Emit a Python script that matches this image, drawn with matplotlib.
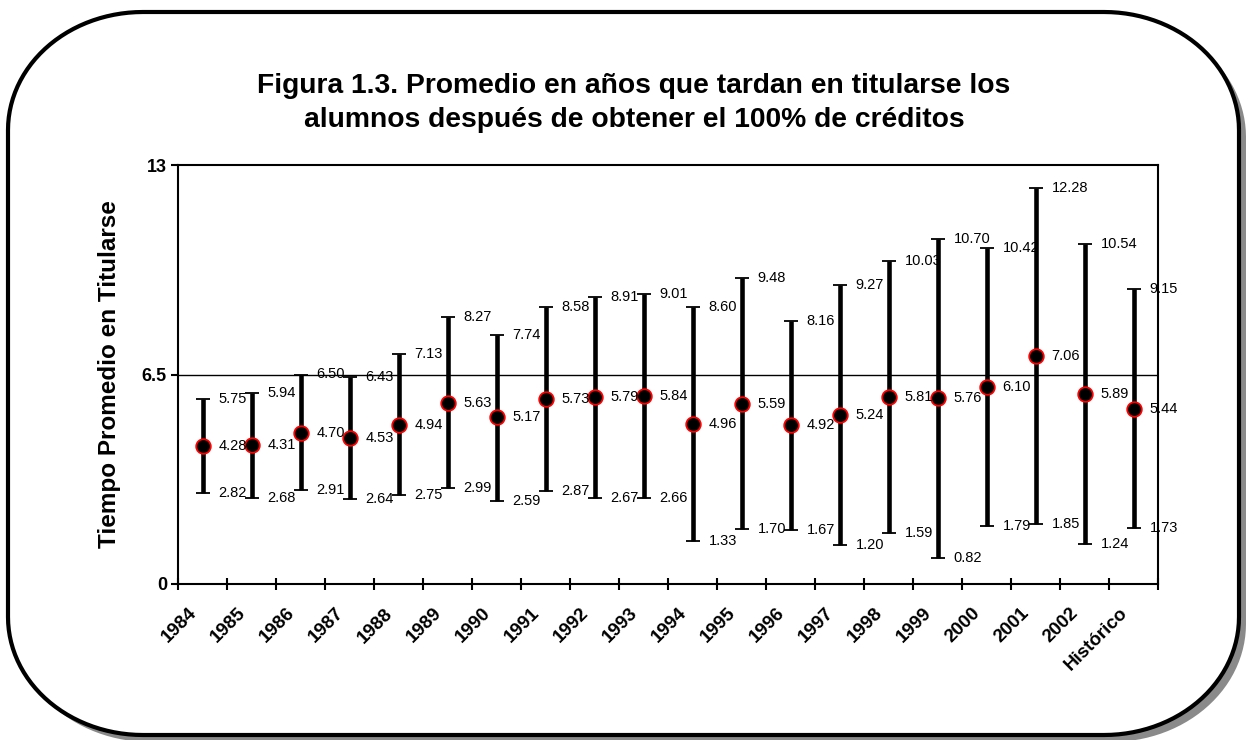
import numpy as np
import matplotlib.pyplot as plt
from matplotlib.path import Path
from matplotlib.patches import PathPatch
from matplotlib.transforms import Affine2D

plt.rcParams['font.family'] = ['Liberation Sans', 'DejaVu Sans']

# datos
categorias = ['1984', '1985', '1986', '1987', '1988', '1989', '1990', '1991', '1992', '1993',
              '1994', '1995', '1996', '1997', '1998', '1999', '2000', '2001', '2002', 'Histórico']
promedio = [4.28, 4.31, 4.70, 4.53, 4.94, 5.63, 5.17, 5.73, 5.79, 5.84,
            4.96, 5.59, 4.92, 5.24, 5.81, 5.76, 6.10, 7.06, 5.89, 5.44]
superior = [5.75, 5.94, 6.50, 6.43, 7.13, 8.27, 7.74, 8.58, 8.91, 9.01,
            8.60, 9.48, 8.16, 9.27, 10.03, 10.70, 10.42, 12.28, 10.54, 9.15]
inferior = [2.82, 2.68, 2.91, 2.64, 2.75, 2.99, 2.59, 2.87, 2.67, 2.66,
            1.33, 1.70, 1.67, 1.20, 1.59, 0.82, 1.79, 1.85, 1.24, 1.73]
linea_ref = 6.5
yticks = [0, 6.5, 13]

W, H = 1248, 740
fig = plt.figure(figsize=(W / 100, H / 100), dpi=100)


def marco_redondeado(x0, y0, x1, y1, rx, ry):
    # rectangulo con esquinas elipticas, en pixeles de la figura
    centros = [(x1 - rx, y1 - ry, 0), (x0 + rx, y1 - ry, 90),
               (x0 + rx, y0 + ry, 180), (x1 - rx, y0 + ry, 270)]
    pts = []
    for cx, cy, a0 in centros:
        t = np.radians(np.linspace(a0, a0 + 90, 30))
        pts += list(zip(cx + rx * np.cos(t), cy + ry * np.sin(t)))
    pts.append(pts[0])
    return Path(pts)


px = Affine2D().scale(1 / W, 1 / H) + fig.transFigure
marco = marco_redondeado(8, 5, 1239, 728, 135, 118)
sombra = PathPatch(marco, transform=Affine2D().translate(7, -7) + px,
                   facecolor='#8a8a8a', edgecolor='#8a8a8a', lw=0, zorder=-2)
borde = PathPatch(marco, transform=px, facecolor='white', edgecolor='black', lw=3, zorder=-1)
fig.add_artist(sombra)
fig.add_artist(borde)

fig.text(634 / W, 1 - 103 / H,
         'Figura 1.3. Promedio en años que tardan en titularse los\nalumnos después de obtener el 100% de créditos',
         ha='center', va='center', fontsize=20.3, fontweight='bold', linespacing=1.4)

ax = fig.add_axes([178 / W, 1 - 584 / H, (1158 - 178) / W, (584 - 165) / H])
ax.set_facecolor('none')

n = len(categorias)
x = np.arange(n) + 0.5
prom = np.array(promedio)
sup = np.array(superior)
inf = np.array(inferior)

ax.axhline(linea_ref, color='black', lw=1, zorder=1)
ax.errorbar(x, prom, yerr=[prom - inf, sup - prom], fmt='o', color='black',
            ecolor='black', elinewidth=3.3, capsize=5, capthick=2.2,
            markersize=10.5, markerfacecolor='black', markeredgecolor='red',
            markeredgewidth=1.3, zorder=3)

for xi, lo, m, hi in zip(x, inferior, promedio, superior):
    for v in (lo, m, hi):
        ax.annotate(f'{v:.2f}', (xi, v), xytext=(11.5, 0), textcoords='offset points',
                    ha='left', va='center', fontsize=10.5, zorder=4)

ax.set_xlim(0, n)
ax.set_ylim(0, 13)
ax.set_xticks(np.arange(n + 1))
ax.set_xticklabels([])
# etiquetas rotadas: ancladas un poco a la izquierda del centro de cada categoria
ax.set_xticks(x - 0.3, minor=True)
ax.set_xticklabels(categorias, minor=True, rotation=45, ha='right', va='top',
                   rotation_mode='anchor', fontsize=13.5, fontweight='bold')
ax.tick_params(axis='x', which='major', direction='inout', length=9, width=1.5)
ax.tick_params(axis='x', which='minor', length=0, pad=15)

ax.set_yticks(yticks)
ax.set_yticklabels(['0', '6.5', '13'], fontsize=13, fontweight='bold')
ax.tick_params(axis='y', direction='out', length=5, width=1.5, pad=3)

for s in ax.spines.values():
    s.set_linewidth(1.5)

ax.set_ylabel('Tiempo Promedio en Titularse', fontsize=17.5, fontweight='bold')
ax.yaxis.set_label_coords(-0.058, 0.5)

fig.savefig('out.png', dpi=100)
